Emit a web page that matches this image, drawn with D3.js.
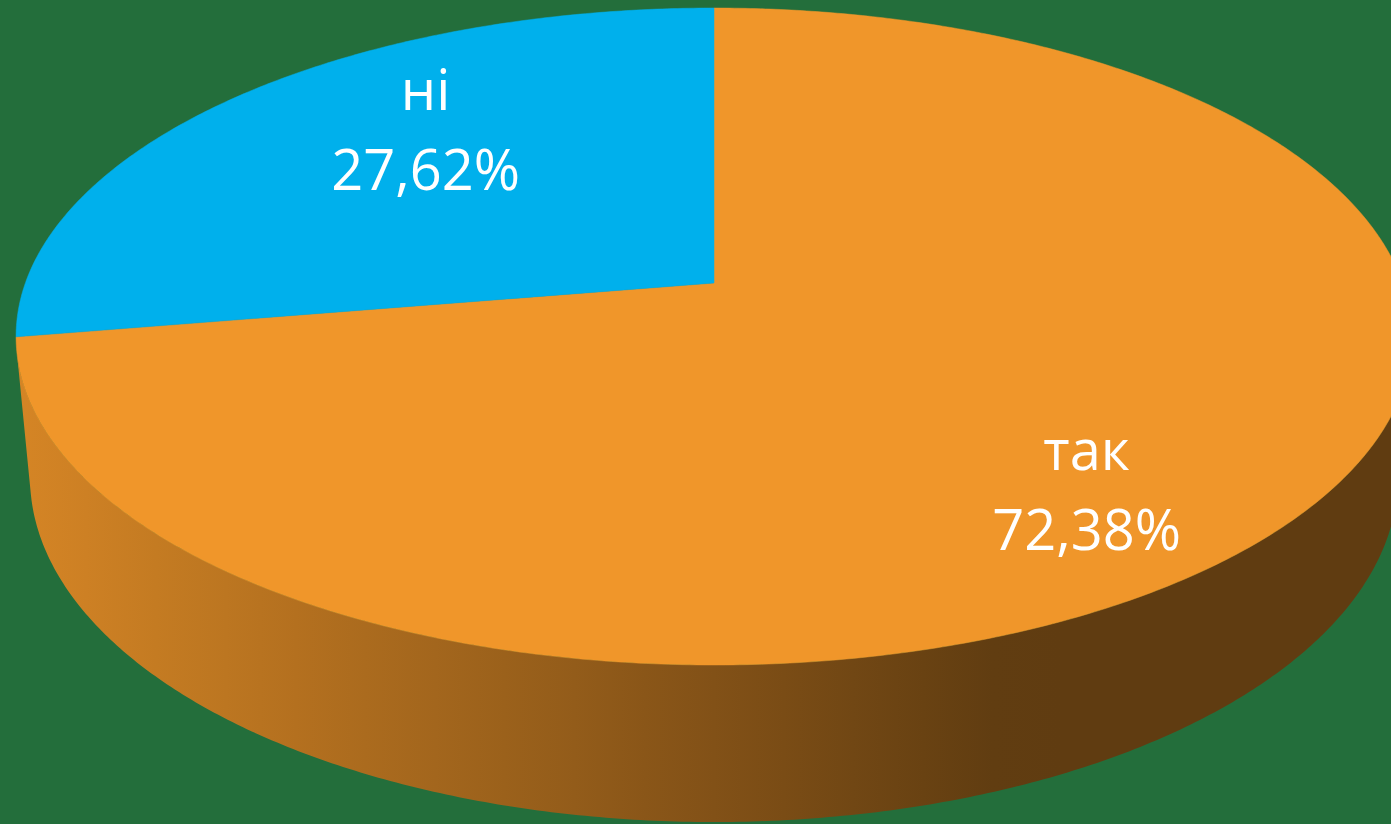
<!DOCTYPE html>
<html>
<head>
<meta charset="utf-8">
<script src="https://cdn.jsdelivr.net/npm/d3@7"></script>
<style>
  html, body { margin: 0; padding: 0; background: #236e3b; overflow: hidden; }
</style>
</head>
<body>
<div id="chart"></div>
<script>
const categories = ["так", "ні"];
const values = [72.38, 27.62];
const valueLabels = ["72,38%", "27,62%"];
const sliceColors = ["#f0962a", "#00b0ec"];

(function() {
  const width = 1391;
  const height = 824;

  // perspective camera, fitted to the reference picture
  const cam = {
    ox: 714, oy: 283,
    focal: 3744,
    dist: 5.437,
    pitch: 27.67 * Math.PI / 180,
    depth: 0.2331
  };
  const sinP = Math.sin(cam.pitch), cosP = Math.cos(cam.pitch);

  // theta clockwise from 12 o'clock, r in pie radii, level 0 = top face, 1 = bottom
  function project(theta, r, level) {
    const px = r * Math.sin(theta);
    const py = -level * cam.depth - cam.dist * sinP;
    const pz = r * Math.cos(theta) + cam.dist * cosP;
    const yc = py * cosP + pz * sinP;
    const zc = -py * sinP + pz * cosP;
    return [cam.ox + cam.focal * px / zc, cam.oy - cam.focal * yc / zc];
  }

  function arcPoints(a0, a1, r, level) {
    const n = Math.max(2, Math.ceil(Math.abs(a1 - a0) / (Math.PI / 360)));
    return d3.range(n + 1).map(i => project(a0 + (a1 - a0) * i / n, r, level));
  }

  const line = d3.line();

  const svg = d3.select("#chart").append("svg")
    .attr("width", width)
    .attr("height", height)
    .style("display", "block");

  svg.append("rect")
    .attr("width", width)
    .attr("height", height)
    .attr("fill", "#236e3b");

  const pie = d3.pie().value(d => d.value).sort(null);
  const pieData = pie(categories.map((c, i) => ({ name: c, value: values[i], label: valueLabels[i], color: sliceColors[i] })));

  // side wall faces the camera where cos(theta) < -1 / (dist * cos(pitch))
  const vis0 = Math.acos(-1 / (cam.dist * cosP));
  const vis1 = 2 * Math.PI - vis0;

  const leftX = project(vis1, 1, 0)[0];
  const rightX = 2 * cam.ox - leftX;
  const shade = d3.scaleLinear()
    .domain([leftX, leftX + 0.705 * (rightX - leftX)])
    .range([0.887, 0.40])
    .clamp(true);

  const defs = svg.append("defs");
  pieData.forEach((d, i) => {
    const base = d3.rgb(d.data.color);
    const grad = defs.append("linearGradient")
      .attr("id", "wall-" + i)
      .attr("gradientUnits", "userSpaceOnUse")
      .attr("x1", leftX).attr("y1", 0)
      .attr("x2", rightX).attr("y2", 0);
    d3.range(0, 1.0001, 0.05).forEach(t => {
      const f = shade(leftX + t * (rightX - leftX));
      grad.append("stop")
        .attr("offset", t)
        .attr("stop-color", d3.rgb(base.r * f, base.g * f, base.b * f).formatHex());
    });
  });

  // walls
  svg.selectAll(".wall")
    .data(pieData.filter(d => Math.max(d.startAngle, vis0) < Math.min(d.endAngle, vis1)))
    .enter()
    .append("path")
    .attr("class", "wall")
    .attr("d", d => {
      const a = Math.max(d.startAngle, vis0);
      const b = Math.min(d.endAngle, vis1);
      return line(arcPoints(a, b, 1, 0).concat(arcPoints(b, a, 1, 1))) + "Z";
    })
    .attr("fill", d => "url(#wall-" + d.index + ")");

  // top faces
  svg.selectAll(".top")
    .data(pieData)
    .enter()
    .append("path")
    .attr("class", "top")
    .attr("d", d => line([project(0, 0, 0)].concat(arcPoints(d.startAngle, d.endAngle, 1, 0))) + "Z")
    .attr("fill", d => d.data.color)
    .attr("stroke", d => d.data.color)
    .attr("stroke-width", 0.5);

  // label placement on the top face (angle nudge in degrees, radius)
  const labelLayout = [
    { shift: 12.4, r: 0.80 },
    { shift: 4.5, r: 0.633 }
  ];

  const labels = svg.selectAll(".label")
    .data(pieData)
    .enter()
    .append("text")
    .attr("class", "label")
    .attr("transform", d => {
      const lay = labelLayout[d.index];
      const mid = (d.startAngle + d.endAngle) / 2 + lay.shift * Math.PI / 180;
      return `translate(${project(mid, lay.r, 0)})`;
    })
    .attr("text-anchor", "middle")
    .attr("fill", "#ffffff")
    .attr("font-family", "'Open Sans', 'Noto Sans', sans-serif")
    .attr("font-size", "56px");

  labels.append("tspan")
    .attr("x", 0)
    .attr("y", -40)
    .text(d => d.data.name);

  labels.append("tspan")
    .attr("x", 0)
    .attr("y", 40)
    .text(d => d.data.label);
})();
</script>
</body>
</html>
